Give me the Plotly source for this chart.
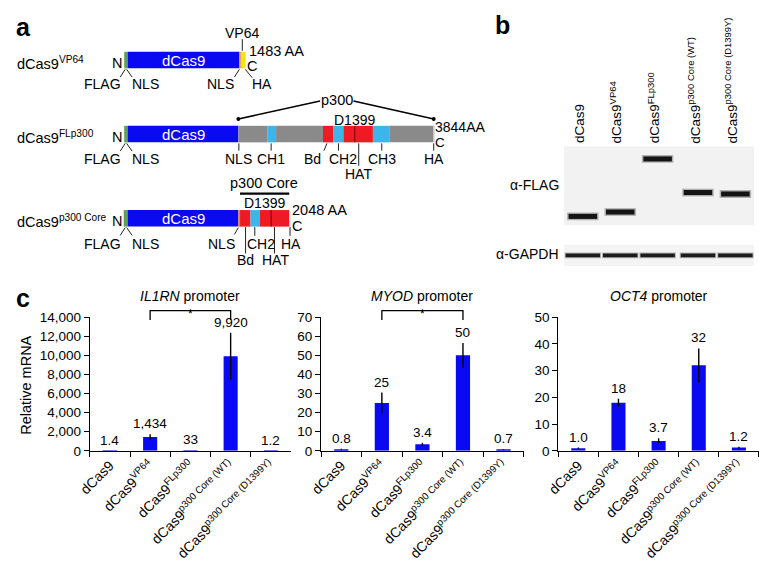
import plotly.graph_objects as go

W, H = 759, 575
FONT = "Liberation Sans, Arial, Helvetica, sans-serif"

# ---------------- data (panel c) ----------------
categories = ["dCas9", "dCas9<sup>VP64</sup>", "dCas9<sup>FLp300</sup>",
              "dCas9<sup>p300 Core (WT)</sup>", "dCas9<sup>p300 Core (D1399Y)</sup>"]
il1rn_values = [1.4, 1434, 33, 9920, 1.2]
il1rn_errors = [0.3, 300, 8, 2450, 0.3]
myod_values = [0.8, 25, 3.4, 50, 0.7]
myod_errors = [0.3, 5.5, 0.8, 6.5, 0.2]
oct4_values = [1.0, 18, 3.7, 32, 1.2]
oct4_errors = [0.2, 1.5, 1.0, 6.3, 0.3]
il1rn_ticks = [0, 2000, 4000, 6000, 8000, 10000, 12000, 14000]
myod_ticks = [0, 10, 20, 30, 40, 50, 60, 70]
oct4_ticks = [0, 10, 20, 30, 40, 50]
titles = ["<i>IL1RN</i> promoter", "<i>MYOD</i> promoter", "<i>OCT4</i> promoter"]
significance = [(1, 3), (1, 3), None]

# ---------------- panel b (western blot) ----------------
lane_labels = ["dCas9", "dCas9<sup>VP64</sup>", "dCas9<sup>FLp300</sup>",
               "dCas9<sup>p300 Core (WT)</sup>", "dCas9<sup>p300 Core (D1399Y)</sup>"]
lane_x = [580, 618, 656, 697, 735]
flag_band_y = [215, 210.5, 156, 190.5, 192]
gapdh_band_y = [255, 255, 255, 255, 255]

# ---------------- colours ----------------
BLUE = "#0a0af2"
GREEN = "#5f9f5a"
GREY = "#8a8a8a"
CYAN = "#3cb6ea"
RED = "#ee1b24"
YELLOW = "#f3e417"
ORANGE = "#d98a1f"
LIGHT = "#d8d8d8"

fig = go.Figure()

# ---------------- bar charts ----------------
chart_xdom = [(79, 283.5), (314, 520), (555, 759)]
y0_px, ytop_px = 455.7, 318.5
series = [(il1rn_values, il1rn_errors, il1rn_ticks),
          (myod_values, myod_errors, myod_ticks),
          (oct4_values, oct4_errors, oct4_ticks)]

annotations = []
shapes = []
for i, ((vals, errs, ticks), (xa, xb)) in enumerate(zip(series, chart_xdom)):
    n = "" if i == 0 else str(i + 1)
    fig.add_trace(go.Bar(
        x=categories, y=vals, width=0.35,
        marker=dict(color=BLUE, line=dict(width=0)),
        error_y=dict(type="data", array=errs, visible=True, color="black",
                     thickness=1.4, width=0),
        xaxis="x" + n, yaxis="y" + n, showlegend=False, hoverinfo="skip"))
    ymax = ticks[-1]
    fig.update_layout(**{
        "xaxis" + n: dict(domain=[xa / W, xb / W], type="category",
                          range=[-0.5, len(categories) - 0.5],
                          showline=True, linecolor="black", linewidth=1.2,
                          ticks="outside", tickson="boundaries", ticklen=5,
                          tickcolor="black", tickwidth=1.2, tickangle=-45,
                          tickfont=dict(family=FONT, size=14, color="black"),
                          showgrid=False, zeroline=False, anchor="y" + n,
                          fixedrange=True),
        "yaxis" + n: dict(domain=[1 - y0_px / H, 1 - ytop_px / H],
                          range=[0, ymax], tickvals=ticks,
                          tickformat=",d", showline=True, linecolor="black",
                          linewidth=1.2, ticks="outside", ticklen=5,
                          tickcolor="black", tickwidth=1.2,
                          tickfont=dict(family=FONT, size=13.5, color="black"),
                          showgrid=False, zeroline=False, anchor="x" + n,
                          fixedrange=True),
    })
    # value labels
    for c, v, e in zip(categories, vals, errs):
        if v >= 100:
            s = f"{v:,.0f}"
        elif v >= 10:
            s = f"{v:.0f}"
        else:
            s = f"{v:.1f}"
        annotations.append(dict(x=c, y=v + e, xref="x" + n, yref="y" + n,
                                text=s, showarrow=False, yanchor="bottom",
                                yshift=1,
                                font=dict(family=FONT, size=13.5, color="black")))
    # title
    annotations.append(dict(x=0.5, y=(y0_px - 288) / (y0_px - ytop_px),
                            xref="x" + n + " domain", yref="y" + n + " domain",
                            text=titles[i], showarrow=False, borderpad=0,
                            font=dict(family=FONT, size=14, color="black")))
    # significance bracket
    if significance[i] is not None:
        a, b = significance[i]
        ncat = len(categories)
        xa_d, xb_d = (a + 0.5) / ncat, (b + 0.5) / ncat
        top = (y0_px - 311.7) / (y0_px - ytop_px)
        leg = (y0_px - 321.5) / (y0_px - ytop_px)
        shapes.append(dict(type="path",
                           path=f"M {xa_d} {leg} L {xa_d} {top} L {xb_d} {top} L {xb_d} {leg}",
                           xref="x" + n + " domain", yref="y" + n + " domain",
                           line=dict(color="black", width=1.3)))
        annotations.append(dict(x=(xa_d + xb_d) / 2,
                                y=(y0_px - 306.5) / (y0_px - ytop_px),
                                xref="x" + n + " domain", yref="y" + n + " domain",
                                text="*", showarrow=False, borderpad=0,
                                font=dict(family=FONT, size=12, color="black")))

# y-axis title
annotations.append(dict(x=4 / W, y=1 - 388 / H, xref="paper", yref="paper",
                        xanchor="left", yanchor="middle", text="Relative mRNA",
                        textangle=-90, showarrow=False,
                        font=dict(family=FONT, size=14.5, color="black")))

# ---------------- overlay pixel axis for panels a and b ----------------
fig.add_trace(go.Scatter(x=[None], y=[None], xaxis="x4", yaxis="y4",
                         showlegend=False, hoverinfo="skip"))
fig.update_layout(
    xaxis4=dict(domain=[0, 1], range=[0, W], visible=False, anchor="y4", fixedrange=True),
    yaxis4=dict(domain=[0, 1], range=[H, 0], visible=False, anchor="x4", fixedrange=True),
)


def txt(x, y, s, size=13, xanchor="center", yanchor="middle", color="black", **kw):
    d = dict(x=x, y=y, xref="x4", yref="y4", text=s, showarrow=False,
             xanchor=xanchor, yanchor=yanchor, borderpad=0,
             font=dict(family=FONT, size=size, color=color))
    d.update(kw)
    annotations.append(d)


def seg(x0, x1, y0, y1, color):
    shapes.append(dict(type="rect", x0=x0, x1=x1, y0=y0, y1=y1, xref="x4", yref="y4",
                       fillcolor=color, line=dict(width=0), layer="above"))


def line(x0, y0, x1, y1, width=1, color="#222"):
    shapes.append(dict(type="line", x0=x0, y0=y0, x1=x1, y1=y1, xref="x4", yref="y4",
                       line=dict(color=color, width=width)))


# panel labels
txt(3, 21, "<b>a</b>", size=25, xanchor="left")
txt(490, 18, "<b>b</b>", size=25, xanchor="left")
txt(3, 299, "<b>c</b>", size=25, xanchor="left")

# ----- row 1: dCas9-VP64 -----
t, b = 46, 63
txt(4, 57, "dCas9<sup>VP64</sup>", size=14.5, xanchor="left")
for x0, x1, c in [(114, 117.5, GREEN), (117.5, 231, BLUE), (231, 232.5, ORANGE),
                  (232.5, 237.5, YELLOW)]:
    seg(x0, x1, t, b, c)
txt(174, 54.5, "dCas9", size=15, color="white")
txt(107, 58, "N", size=14.5)
txt(233.5, 27, "VP64", size=14)
line(234, 33, 234, 45)
txt(240, 45, "1483 AA", size=14.5, xanchor="left")
txt(244, 61, "C", size=14.5)
line(115, b + 1, 110, b + 9)
line(116.5, b + 1, 122, b + 9)
line(231, b + 1, 226, b + 9)
line(237, b + 1, 244, b + 9.5)
for x, s in [(92, "FLAG"), (136, "NLS"), (212, "NLS"), (254, "HA")]:
    txt(x, 79.5, s, size=14)

# ----- row 2: dCas9-FLp300 -----
t, b = 122, 139
txt(4, 133, "dCas9<sup>FLp300</sup>", size=14.5, xanchor="left")
for x0, x1, c in [(114, 117.5, GREEN), (117.5, 230, BLUE), (230, 259.3, GREY),
                  (259.3, 268.3, CYAN), (268.3, 316, GREY), (316, 326.7, RED),
                  (326.7, 336.7, CYAN), (336.7, 366.7, RED), (366.7, 383.3, CYAN),
                  (383.3, 428.3, GREY), (428.3, 429.6, LIGHT)]:
    seg(x0, x1, t, b, c)
line(348.3, t, 348.3, b, width=1, color="#7a0000")
txt(174, 130.5, "dCas9", size=15, color="white")
txt(107, 133, "N", size=14.5)
line(230, 115, 313, 96.5, width=1.6, color="black")
line(347, 96.5, 428.5, 115, width=1.6, color="black")
for cx in (230, 428.5):
    shapes.append(dict(type="circle", x0=cx - 2, x1=cx + 2, y0=113, y1=117,
                       xref="x4", yref="y4", fillcolor="black", line=dict(width=0)))
txt(330, 95, "p300", size=14.5)
txt(348, 116.5, "D1399", size=14)
txt(429, 123.5, "3844AA", size=14, xanchor="left")
txt(435, 139, "C", size=13.5)
line(115, b + 1, 110, b + 9)
line(116.5, b + 1, 122, b + 9)
for x0, x1, y1 in [(230.5, 230.5, 147.5), (263.3, 263.3, 147.5), (320, 317, 147.5),
                   (331.7, 331.7, 147.5), (352.3, 352.3, 163), (375.7, 375.7, 147.5),
                   (428.5, 428.5, 147.5)]:
    line(x0, b + 1, x1, y1)
for x, s in [(92, "FLAG"), (136, "NLS"), (230.5, "NLS"), (263, "CH1"), (305.5, "Bd"),
             (336.3, "CH2"), (376.3, "CH3"), (428.5, "HA")]:
    txt(x, 156, s, size=14)
txt(352, 171.5, "HAT", size=14)

# ----- row 3: dCas9-p300 Core -----
t, b = 208.5, 225.5
txt(4, 220, "dCas9<sup>p300 Core</sup>", size=14.5, xanchor="left")
for x0, x1, c in [(113.5, 117.5, GREEN), (117.5, 230, BLUE), (230, 231.7, ORANGE),
                  (231.7, 242.3, RED), (242.3, 251.7, CYAN), (251.7, 281.7, RED),
                  (281.7, 283, LIGHT)]:
    seg(x0, x1, t, b, c)
line(263.3, t, 263.3, b, width=1, color="#7a0000")
txt(174, 217, "dCas9", size=15, color="white")
txt(107, 219.5, "N", size=14.5)
txt(256.5, 181, "p300 Core", size=14.5)
line(231.7, 191.7, 281.7, 191.7, width=2.2, color="black")
txt(257, 201.5, "D1399", size=14)
txt(283.5, 208, "2048 AA", size=14.5, xanchor="left")
txt(290, 225, "C", size=14.5)
line(115, b + 1, 110, b + 9)
line(116.5, b + 1, 122, b + 9)
line(230, b + 1, 226, b + 8)
for x0, y1 in [(237.3, 253), (246.7, 235), (266.7, 253), (282.5, 235)]:
    line(x0, b + 0.5, x0, y1)
for x, s in [(92, "FLAG"), (136, "NLS"), (212.7, "NLS"), (253, "CH2"), (283.7, "HA")]:
    txt(x, 243, s, size=14)
for x, s in [(237.5, "Bd"), (267.3, "HAT")]:
    txt(x, 260, s, size=14)

# ----- panel b: blot -----
seg(561, 754, 143, 224, "#f2f2f2")
seg(561, 754, 244, 266, "#f4f4f4")
for lx, fy, gy in zip(lane_x, flag_band_y, gapdh_band_y):
    shapes.append(dict(type="rect", x0=lx - 16, x1=lx + 16, y0=fy - 4, y1=fy + 4,
                       xref="x4", yref="y4", fillcolor="rgba(60,60,60,0.35)",
                       line=dict(width=0)))
    shapes.append(dict(type="rect", x0=lx - 14.5, x1=lx + 14.5, y0=fy - 2.6, y1=fy + 2.6,
                       xref="x4", yref="y4", fillcolor="#141414",
                       line=dict(width=0)))
    shapes.append(dict(type="rect", x0=lx - 18.5, x1=lx + 18.5, y0=gy - 3, y1=gy + 3,
                       xref="x4", yref="y4", fillcolor="rgba(60,60,60,0.35)",
                       line=dict(width=0)))
    shapes.append(dict(type="rect", x0=lx - 17.5, x1=lx + 17.5, y0=gy - 2, y1=gy + 2,
                       xref="x4", yref="y4", fillcolor="#1c1c1c",
                       line=dict(width=0)))
for lx, s in zip(lane_x, lane_labels):
    txt(lx + 6, 141, s, size=13.5, xanchor="right", yanchor="bottom", textangle=-90)
txt(557, 183, "α-FLAG", size=14, xanchor="right")
txt(557, 254, "α-GAPDH", size=14, xanchor="right")

fig.update_layout(
    width=W, height=H, margin=dict(l=0, r=0, t=0, b=0),
    paper_bgcolor="white", plot_bgcolor="rgba(0,0,0,0)",
    annotations=annotations, shapes=shapes, bargap=0.6,
    font=dict(family=FONT, color="black"),
)

fig.write_html("out.html", config={"displayModeBar": False},
               post_script="document.body.style.margin='0';document.body.style.overflow='hidden';")
